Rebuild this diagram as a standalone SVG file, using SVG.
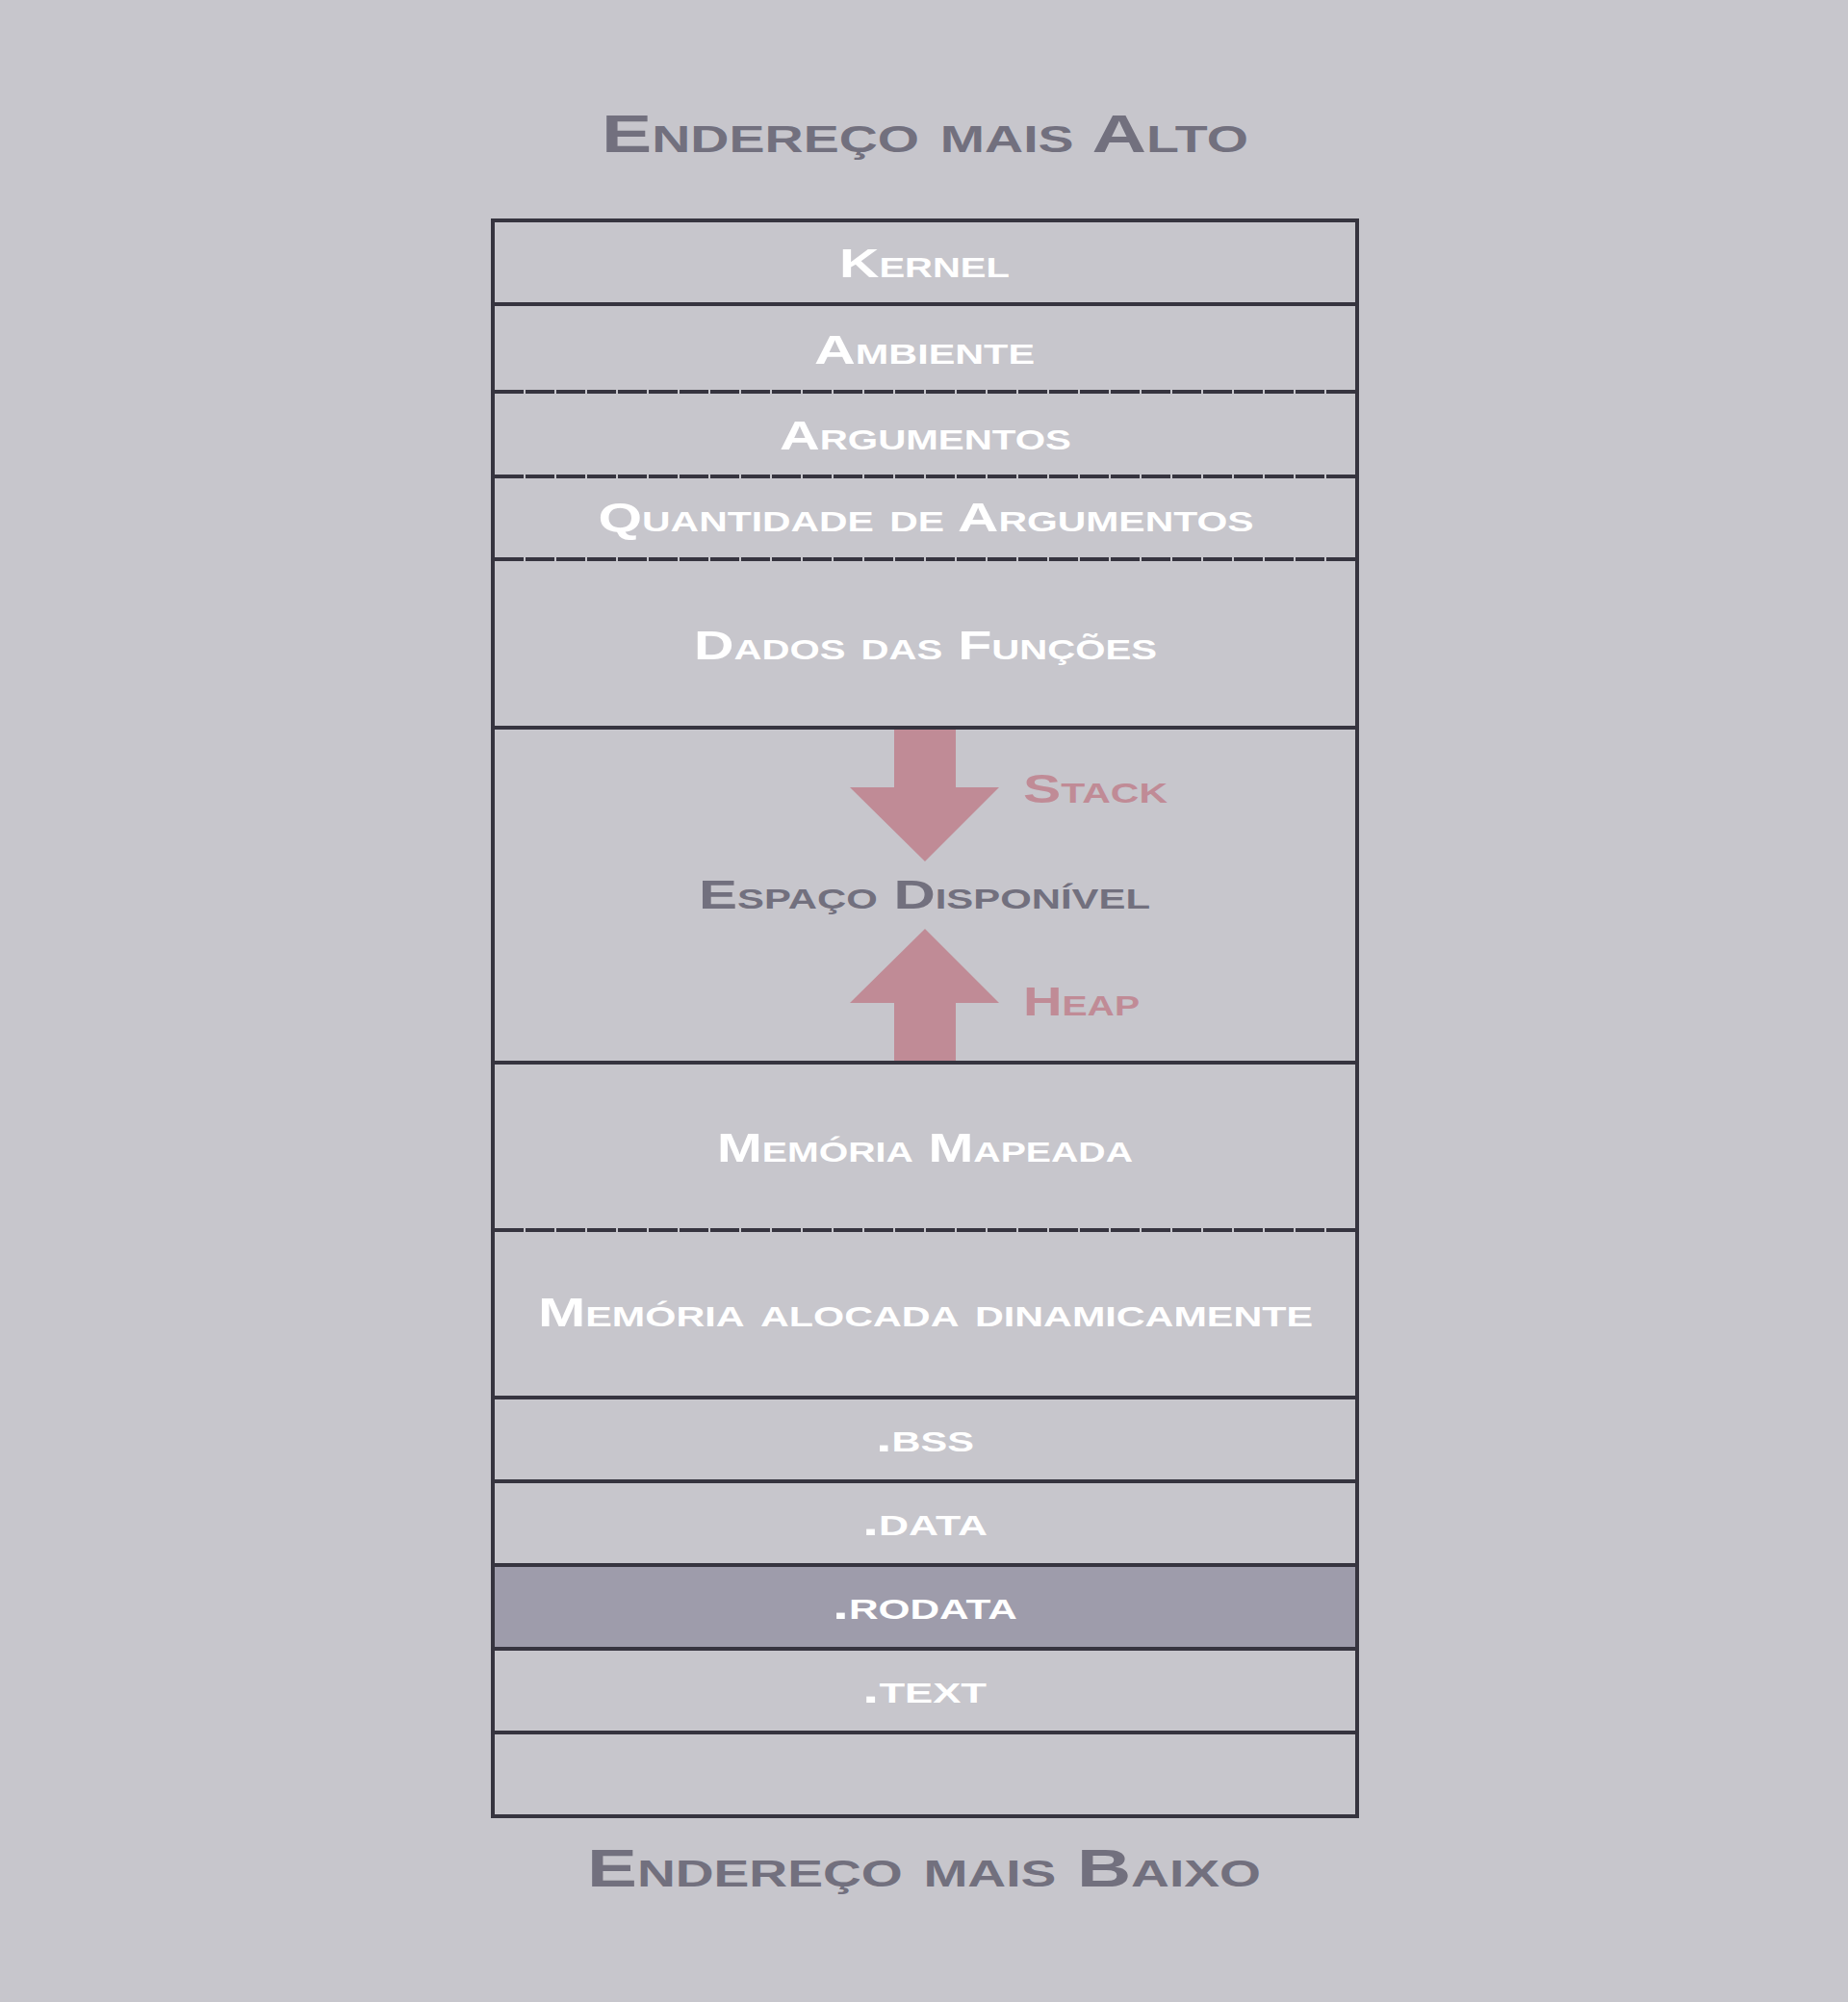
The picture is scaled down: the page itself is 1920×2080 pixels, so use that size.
<svg xmlns="http://www.w3.org/2000/svg" width="1920" height="2080" viewBox="0 0 1920 2080">
<style>
text{font-family:"Liberation Sans","DejaVu Sans",Arial,sans-serif;font-weight:bold;font-variant:small-caps;text-anchor:middle}
.w{fill:#ffffff;font-size:43px}
.t{fill:#72707e;font-size:55px}
.g{fill:#72707e;font-size:43px}
.p{fill:#c08b96;font-size:43px;text-anchor:start}
.sep{stroke:#36343f;stroke-width:4;fill:none}
.dash{stroke:#36343f;stroke-width:4;fill:none;stroke-dasharray:30 2}
.arrow{fill:#c08b96}
</style>
<rect x="0" y="0" width="1920" height="2080" fill="#c7c6cc"/>
<g id="title-top"><text class="t" x="961" y="158" textLength="672" lengthAdjust="spacingAndGlyphs">Endereço mais Alto</text></g>
<g id="title-bottom"><text class="t" x="960" y="1960" textLength="700" lengthAdjust="spacingAndGlyphs">Endereço mais Baixo</text></g>
<g id="rodata-fill"><rect x="514" y="1628" width="894" height="83" fill="#9e9cab"/></g>
<g id="connectors">
<polygon class="arrow" points="929,758 993,758 993,818 1038,818 961,895 883,818 929,818"/>
<polygon class="arrow" points="929,1102 993,1102 993,1042 1038,1042 961,965 883,1042 929,1042"/>
</g>
<g id="lines">
<rect class="sep" x="512" y="229" width="898" height="1658"/>
<line class="sep" x1="512" y1="316" x2="1410" y2="316"/>
<line class="dash" x1="514" y1="407" x2="1408" y2="407"/>
<line class="dash" x1="514" y1="495" x2="1408" y2="495"/>
<line class="dash" x1="514" y1="581" x2="1408" y2="581"/>
<line class="sep" x1="512" y1="756" x2="1410" y2="756"/>
<line class="sep" x1="512" y1="1104" x2="1410" y2="1104"/>
<line class="dash" x1="514" y1="1278" x2="1408" y2="1278"/>
<line class="sep" x1="512" y1="1452" x2="1410" y2="1452"/>
<line class="sep" x1="512" y1="1539" x2="1410" y2="1539"/>
<line class="sep" x1="512" y1="1626" x2="1410" y2="1626"/>
<line class="sep" x1="512" y1="1713" x2="1410" y2="1713"/>
<line class="sep" x1="512" y1="1800" x2="1410" y2="1800"/>
</g>
<g id="kernel"><text class="w" x="960.5" y="288" textLength="177" lengthAdjust="spacingAndGlyphs">Kernel</text></g>
<g id="ambiente"><text class="w" x="960.5" y="378" textLength="229" lengthAdjust="spacingAndGlyphs">Ambiente</text></g>
<g id="argumentos"><text class="w" x="961.5" y="467" textLength="303" lengthAdjust="spacingAndGlyphs">Argumentos</text></g>
<g id="quantidade"><text class="w" x="962" y="552" textLength="681" lengthAdjust="spacingAndGlyphs">Quantidade de Argumentos</text></g>
<g id="dados"><text class="w" x="961.5" y="685" textLength="481" lengthAdjust="spacingAndGlyphs">Dados das Funções</text></g>
<g id="espaco">
<text class="g" x="960.5" y="944" textLength="469" lengthAdjust="spacingAndGlyphs">Espaço Disponível</text>
<text class="p" x="1063" y="834" textLength="150" lengthAdjust="spacingAndGlyphs">Stack</text>
<text class="p" x="1063" y="1055" textLength="121" lengthAdjust="spacingAndGlyphs">Heap</text>
</g>
<g id="mapeada"><text class="w" x="961" y="1207" textLength="432" lengthAdjust="spacingAndGlyphs">Memória Mapeada</text></g>
<g id="alocada"><text class="w" x="961.5" y="1378" textLength="805" lengthAdjust="spacingAndGlyphs">Memória alocada dinamicamente</text></g>
<g id="bss"><text class="w" x="961" y="1508" textLength="102" lengthAdjust="spacingAndGlyphs">.bss</text></g>
<g id="data"><text class="w" x="961" y="1595" textLength="130" lengthAdjust="spacingAndGlyphs">.data</text></g>
<g id="rodata"><text class="w" x="961" y="1682" textLength="192" lengthAdjust="spacingAndGlyphs">.rodata</text></g>
<g id="text"><text class="w" x="960.5" y="1769" textLength="129" lengthAdjust="spacingAndGlyphs">.text</text></g>
<g id="empty"></g>
</svg>
